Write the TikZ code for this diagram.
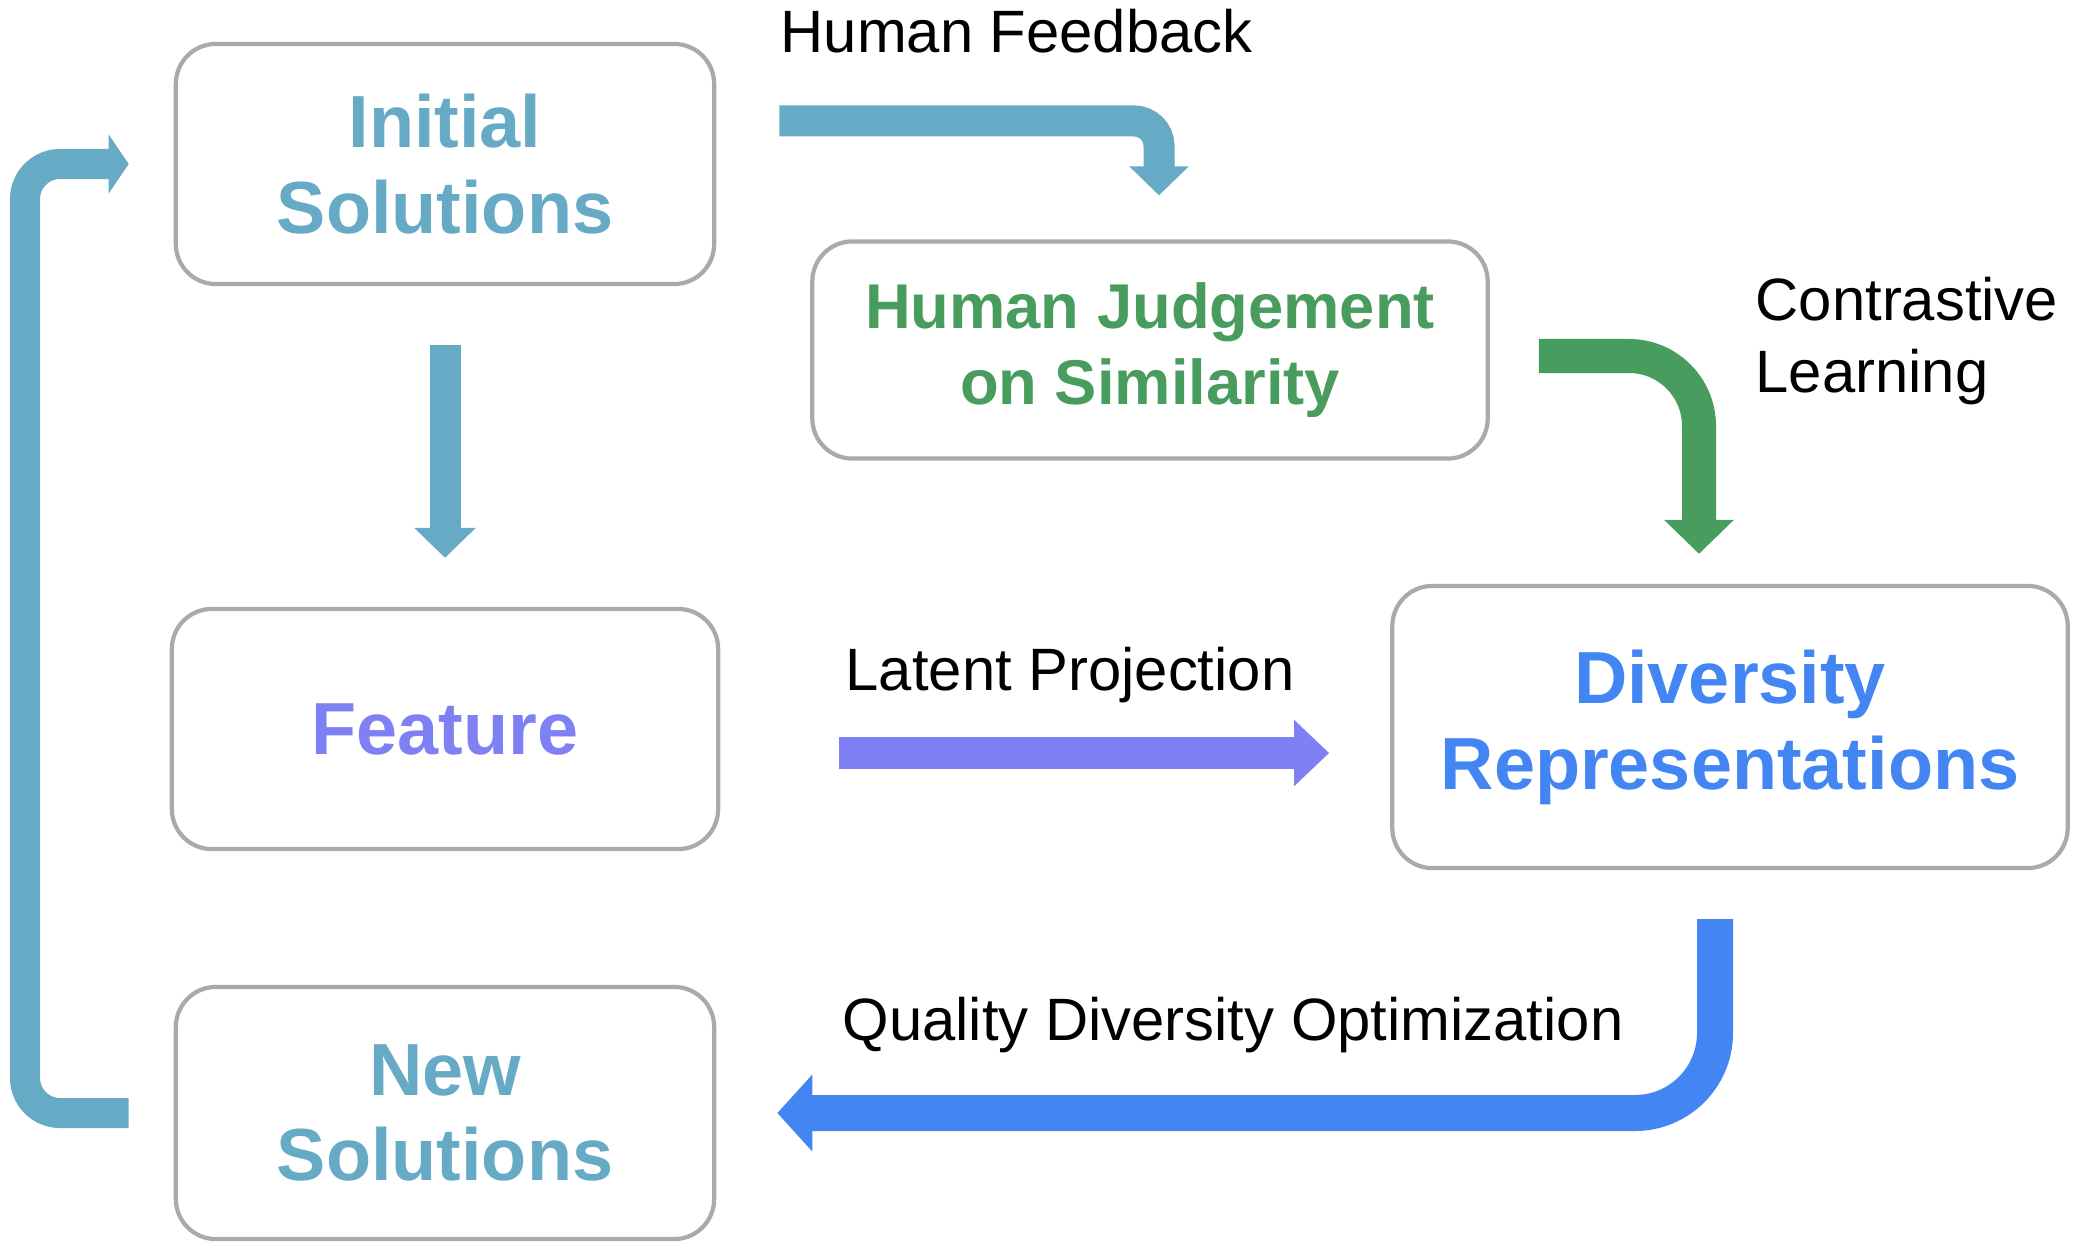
\documentclass[tikz,border=0pt]{standalone}
\usepackage{fontspec}
\setmainfont{Liberation Sans}
\usetikzlibrary{arrows.meta}
\definecolor{boxline}{RGB}{170,170,170}
\definecolor{solcol}{RGB}{102,170,198}
\definecolor{judgecol}{RGB}{72,156,94}
\definecolor{featcol}{RGB}{128,128,245}
\definecolor{divcol}{RGB}{67,134,243}
\tikzset{
  box/.style={draw=boxline,line width=1.2pt,rounded corners=0.4cm,fill=white,align=center,inner sep=0pt,font=\fontsize{21}{24.4}\selectfont\bfseries},
  lab/.style={anchor=base west,inner sep=0pt,align=left,font=\fontsize{17}{20.7}\selectfont},
  flow/.style={line width=0.31cm,-{Triangle[length=0.3cm,width=0.6cm]}},
}
\begin{document}
\begin{tikzpicture}[x=0.01cm,y=-0.01cm]
  \useasboundingbox (0,0) rectangle (2080,1252);
  % boxes
  \node[box,text=solcol,minimum width=5.38cm,minimum height=2.4cm] (init) at (445,164) {Initial\\Solutions};
  \node[box,text=judgecol,minimum width=6.75cm,minimum height=2.17cm,font=\fontsize{18}{21.8}\selectfont\bfseries] (judge) at (1150,350) {Human Judgement\\on Similarity};
  \node[box,text=featcol,minimum width=5.46cm,minimum height=2.4cm] (feat) at (445,729) {Feature};
  \node[box,text=divcol,minimum width=6.75cm,minimum height=2.82cm] (divrep) at (1730,727) {Diversity\\Representations};
  \node[box,text=solcol,minimum width=5.38cm,minimum height=2.52cm] (newsol) at (445,1113) {New\\Solutions};
  % labels
  \node[lab] (hflab) at (780,53) {Human Feedback};
  \node[lab] (cllab) at (1755,393) {Contrastive\\Learning};
  \node[lab] (lplab) at (845,690) {Latent Projection};
  \node[lab] (qdlab) at (842,1040) {Quality Diversity Optimization};
  % arrows
  \draw[flow,solcol,rounded corners=0.25cm,-{Triangle[length=0.29cm,width=0.58cm]},shorten <=0.63cm,shorten >=0.44cm]
    ([yshift=0.43cm]init.east) -| ([xshift=0.09cm]judge.north);
  \draw[flow,solcol,shorten <=0.59cm,shorten >=0.49cm] (init.south) -- (feat.north);
  \draw[flow,judgecol,line width=0.34cm,rounded corners=0.7cm,-{Triangle[length=0.34cm,width=0.68cm]},shorten <=0.49cm,shorten >=0.3cm]
    ([yshift=-0.06cm]judge.east) -| ([xshift=-0.31cm]divrep.north);
  \draw[flow,featcol,line width=0.32cm,-{Triangle[length=0.35cm,width=0.64cm]},shorten <=1.19cm,shorten >=0.61cm]
    ([yshift=-0.24cm]feat.east) -- ([yshift=-0.24cm]feat.east -| divrep.west);
  \draw[flow,divcol,line width=0.36cm,rounded corners=0.8cm,-{Triangle[length=0.35cm,width=0.75cm]},shorten <=0.49cm,shorten >=0.61cm]
    ([xshift=-0.15cm]divrep.south) |- (newsol.east);
  \coordinate (loopx) at (25,0);
  \draw[flow,solcol,line width=0.3cm,rounded corners=0.35cm,-{Triangle[length=0.2cm,width=0.58cm]},shorten <=0.45cm,shorten >=0.45cm]
    (newsol.west) -- (newsol.west -| loopx) |- (init.west);
\end{tikzpicture}
\end{document}
